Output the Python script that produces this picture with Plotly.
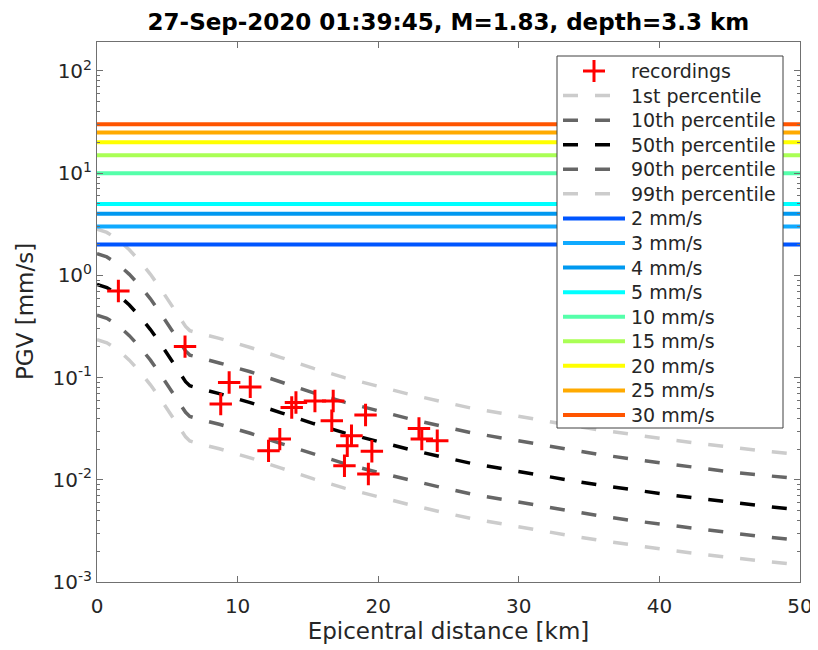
import plotly.graph_objects as go

# ---- data ----
rec_dist = [1.52, 6.26, 8.8, 9.4, 10.9, 12.2, 13.0, 13.85, 14.15, 15.5, 16.7, 16.8,
            17.6, 17.8, 18.1, 19.1, 19.3, 19.55, 22.9, 23.1, 24.2]
rec_pgv = [0.703, 0.201, 0.055, 0.0895, 0.081, 0.0192, 0.025, 0.051, 0.057, 0.059, 0.0378, 0.059,
           0.0137, 0.0215, 0.027, 0.043, 0.0114, 0.019, 0.0318, 0.025, 0.0241]

dist = [0, 0.7, 1.5, 2.3, 3.1, 3.8, 4.5, 5.2, 5.9, 6.3, 6.6, 7.2, 8.7, 10.9, 13.1, 15.4,
        17.6, 19.8, 22.1, 24.4, 26.6, 28.9, 31.2, 33.4, 35.7, 38.0, 40.3, 42.6, 44.9, 47.3, 50]

p50 = [0.817, 0.759, 0.646, 0.513, 0.389, 0.295, 0.216, 0.155, 0.110, 0.0912, 0.0832, 0.0785,
       0.0697, 0.0569, 0.0452, 0.0355, 0.0288, 0.0239, 0.0200, 0.0169, 0.0145, 0.0128, 0.0112,
       0.0100, 0.00889, 0.00798, 0.00726, 0.00661, 0.00603, 0.00555, 0.00509]
p90 = [1.630, 1.514, 1.289, 1.023, 0.776, 0.589, 0.431, 0.309, 0.219, 0.182, 0.166, 0.157,
       0.139, 0.114, 0.0902, 0.0708, 0.0575, 0.0477, 0.0399, 0.0337, 0.0289, 0.0255, 0.0223,
       0.0200, 0.0177, 0.0159, 0.0145, 0.0132, 0.0120, 0.0111, 0.0102]
p10 = [0.409, 0.380, 0.324, 0.257, 0.195, 0.148, 0.108, 0.0777, 0.0551, 0.0457, 0.0417, 0.0393,
       0.0349, 0.0285, 0.0226, 0.0178, 0.0144, 0.0120, 0.0100, 0.00847, 0.00726, 0.00641, 0.00561,
       0.00501, 0.00445, 0.00400, 0.00364, 0.00331, 0.00302, 0.00278, 0.00255]
p99 = [2.833, 2.631, 2.240, 1.779, 1.349, 1.023, 0.749, 0.537, 0.381, 0.316, 0.288, 0.272,
       0.242, 0.197, 0.157, 0.123, 0.0998, 0.0829, 0.0693, 0.0586, 0.0503, 0.0444, 0.0388,
       0.0347, 0.0308, 0.0277, 0.0252, 0.0229, 0.0209, 0.0192, 0.0176]
p1 = [0.235, 0.219, 0.186, 0.148, 0.112, 0.0850, 0.0622, 0.0446, 0.0317, 0.0263, 0.0240, 0.0226,
      0.0201, 0.0164, 0.0130, 0.0102, 0.00829, 0.00688, 0.00576, 0.00487, 0.00418, 0.00369, 0.00323,
      0.00288, 0.00256, 0.00230, 0.00209, 0.00190, 0.00174, 0.00160, 0.00147]

percentile_labels = ["1st percentile", "10th percentile", "50th percentile",
                     "90th percentile", "99th percentile"]

thresholds = [2, 3, 4, 5, 10, 15, 20, 25, 30]
threshold_labels = ["2 mm/s", "3 mm/s", "4 mm/s", "5 mm/s", "10 mm/s", "15 mm/s",
                    "20 mm/s", "25 mm/s", "30 mm/s"]
threshold_colors = ["#0055FF", "#10AAFF", "#0099F0", "#00FFFF", "#55FFAA", "#AAFF55",
                    "#FFFF00", "#FFAA00", "#FF5500"]

x_range = [0, 50]
x_tickvals = [0, 10, 20, 30, 40, 50]
y_tickvals = [1e-3, 1e-2, 1e-1, 1e0, 1e1, 1e2]
y_ticktext = ["10<sup>-3</sup>", "10<sup>-2</sup>", "10<sup>-1</sup>", "10<sup>0</sup>",
              "10<sup>1</sup>", "10<sup>2</sup>"]

title_text = "27-Sep-2020 01:39:45, M=1.83, depth=3.3 km"
x_title = "Epicentral distance [km]"
y_title = "PGV [mm/s]"

LIGHT = "#CCCCCC"
DARK = "#666666"
DASH = "15px,17px"
FONT = "DejaVu Sans"
TXT = "#262626"
AX = "#707070"

fig = go.Figure()

perc_vals = [p1, p10, p50, p90, p99]
perc_cols = [LIGHT, DARK, "black", DARK, LIGHT]

for name, vals, col in zip(percentile_labels, perc_vals, perc_cols):
    fig.add_trace(go.Scatter(x=dist, y=vals, mode="lines", name=name, showlegend=False,
                             line=dict(color=col, width=3.5, dash=DASH)))

for v, lab, col in zip(thresholds, threshold_labels, threshold_colors):
    fig.add_trace(go.Scatter(x=x_range, y=[v, v], mode="lines", name=lab, showlegend=False,
                             line=dict(color=col, width=4)))

fig.add_trace(go.Scatter(x=rec_dist, y=rec_pgv, mode="markers", name="recordings",
                         showlegend=False,
                         marker=dict(symbol="cross-thin", size=16, color="red",
                                     line=dict(width=3, color="red"))))

axis_common = dict(showline=True, linecolor=AX, linewidth=1, mirror="allticks",
                   ticks="inside", tickcolor=AX, showgrid=False, zeroline=False,
                   automargin=False,
                   tickfont=dict(family=FONT, size=20, color=TXT))

fig.update_xaxes(range=x_range, tickvals=x_tickvals, ticklen=6, ticklabelstandoff=6,
                 title=dict(text=x_title, font=dict(family=FONT, size=23, color=TXT),
                            standoff=4),
                 **axis_common)
fig.update_yaxes(type="log", range=[-3, 2.283], tickvals=y_tickvals, ticktext=y_ticktext,
                 ticklen=6,
                 minor=dict(ticks="inside", ticklen=3, tickcolor=AX, dtick="D1",
                            showgrid=False),
                 **axis_common)

# ---- legend (drawn as a framed box over the plot, like the original) ----
PW, PH = 703.0, 540.0          # plot-area size in px


def px_x(dx):
    return dx / PW


def px_y(dy):
    return 1 - dy / PH


shapes = []
annotations = []
shapes.append(dict(type="rect", xref="paper", yref="paper", layer="above",
                   x0=px_x(460), x1=px_x(686), y0=px_y(386), y1=px_y(14),
                   fillcolor="white", line=dict(color="#404040", width=1)))

legend_labels = ["recordings"] + percentile_labels + threshold_labels
row0, row_step = 29.0, 24.57
sx0, sx1, tx = 466, 528, 532
for i, lab in enumerate(legend_labels):
    yc = px_y(row0 + row_step * i)
    if i == 0:
        cx = 497
        shapes.append(dict(type="line", xref="paper", yref="paper", layer="above",
                           x0=px_x(cx - 11), x1=px_x(cx + 11), y0=yc, y1=yc,
                           line=dict(color="red", width=3)))
        shapes.append(dict(type="line", xref="paper", yref="paper", layer="above",
                           x0=px_x(cx), x1=px_x(cx), y0=yc - 11 / PH, y1=yc + 11 / PH,
                           line=dict(color="red", width=3)))
    elif i <= 5:
        shapes.append(dict(type="line", xref="paper", yref="paper", layer="above",
                           x0=px_x(sx0), x1=px_x(sx1), y0=yc, y1=yc,
                           line=dict(color=perc_cols[i - 1], width=3.5, dash=DASH)))
    else:
        shapes.append(dict(type="line", xref="paper", yref="paper", layer="above",
                           x0=px_x(sx0), x1=px_x(sx1), y0=yc, y1=yc,
                           line=dict(color=threshold_colors[i - 6], width=4)))
    annotations.append(dict(text=lab, xref="paper", yref="paper", x=px_x(tx), y=yc,
                            xanchor="left", yanchor="middle", showarrow=False,
                            font=dict(family=FONT, size=19, color=TXT)))

annotations.append(dict(text=y_title, xref="paper", yref="paper", x=px_x(-72), y=0.5,
                        xanchor="center", yanchor="middle", textangle=-90, showarrow=False,
                        font=dict(family=FONT, size=23, color=TXT)))

fig.update_layout(
    width=810, height=642,
    margin=dict(l=89, r=18, t=34, b=68, autoexpand=False),
    paper_bgcolor="white", plot_bgcolor="white",
    title=dict(text="<b>" + title_text + "</b>",
               x=0.5438, xanchor="center", y=0.978, yanchor="middle",
               font=dict(family=FONT, size=23, color="black")),
    shapes=shapes,
    annotations=annotations,
    showlegend=False,
)

fig.write_html("out.html")
